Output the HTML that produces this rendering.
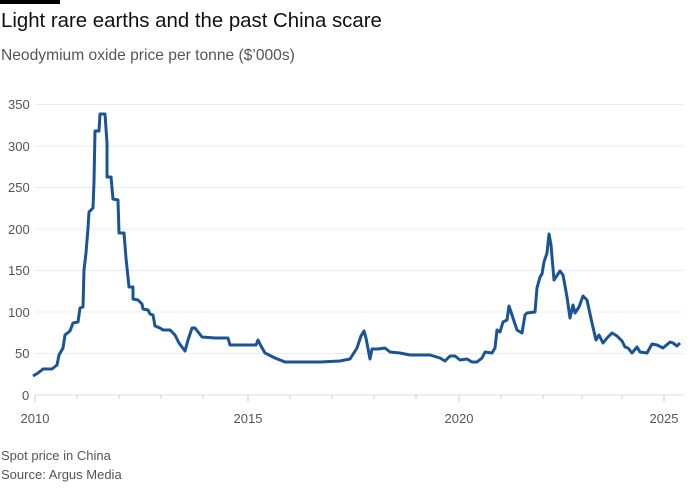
<!DOCTYPE html>
<html><head><meta charset="utf-8"><style>
body{margin:0;background:#fff;font-family:"Liberation Sans",sans-serif;}
.w{position:relative;width:700px;height:500px;overflow:hidden;}
</style></head><body><div class="w">
<div style="position:absolute;left:0;top:0;width:60px;height:4px;background:#000"></div>
<div style="position:absolute;left:1px;top:10px;font-size:20.4px;color:#111">Light rare earths and the past China scare</div>
<div style="position:absolute;left:1px;top:47px;font-size:15.6px;color:#555">Neodymium oxide price per tonne ($’000s)</div>
<svg width="700" height="500" style="position:absolute;left:0;top:0" font-family="Liberation Sans, sans-serif">
<g stroke="#ececec" stroke-width="1">
<line x1="35" x2="684" y1="104.5" y2="104.5"/><line x1="35" x2="684" y1="146" y2="146"/><line x1="35" x2="684" y1="187.5" y2="187.5"/><line x1="35" x2="684" y1="229" y2="229"/><line x1="35" x2="684" y1="270.5" y2="270.5"/><line x1="35" x2="684" y1="312" y2="312"/><line x1="35" x2="684" y1="353.5" y2="353.5"/>
</g>
<line x1="35" x2="684" y1="395" y2="395" stroke="#ddd"/>
<g stroke="#ccc">
<line x1="35" x2="35" y1="395" y2="402"/><line x1="77" x2="77" y1="395" y2="399"/><line x1="119" x2="119" y1="395" y2="399"/><line x1="161" x2="161" y1="395" y2="399"/><line x1="203" x2="203" y1="395" y2="399"/><line x1="248" x2="248" y1="395" y2="402"/><line x1="290" x2="290" y1="395" y2="399"/><line x1="332" x2="332" y1="395" y2="399"/><line x1="374" x2="374" y1="395" y2="399"/><line x1="416" x2="416" y1="395" y2="399"/><line x1="459" x2="459" y1="395" y2="402"/><line x1="501" x2="501" y1="395" y2="399"/><line x1="543" x2="543" y1="395" y2="399"/><line x1="582" x2="582" y1="395" y2="399"/><line x1="622" x2="622" y1="395" y2="399"/><line x1="664" x2="664" y1="395" y2="402"/>
</g>
<g font-size="13" fill="#555">
<text x="8" y="109">350</text><text x="8" y="151">300</text><text x="8" y="192">250</text><text x="8" y="234">200</text><text x="8" y="275">150</text><text x="8" y="317">100</text><text x="15" y="358">50</text><text x="22" y="400">0</text>
<text x="35" y="423" text-anchor="middle">2010</text><text x="248" y="423" text-anchor="middle">2015</text><text x="459" y="423" text-anchor="middle">2020</text><text x="664" y="423" text-anchor="middle">2025</text>
</g>
<polyline fill="none" stroke="#1a5496" stroke-width="3" stroke-linejoin="round" points="33,376 38,373 43,369 52,369 57,365 59,355 63,348 65,335 70,331 73,323 78,322 80,308 83,307 84,270 86,253 88,228 89,212 93,208 94,182 95,131 99,131 100,114 105,114 107,143 107,177 111,177 113,199 118,200 119,233 124,233 126,258 129,287 133,287 133,299 138,300 142,304 143,309 148,310 150,314 153,315 155,326 160,328 163,330 170,330 175,335 179,343 185,351 188,340 192,328 195,328 202,337 215,338 228,338 230,345 256,345 258,340 261,346 265,353 275,358 285,362 300,362 320,362 340,361 350,359 357,348 361,336 364,331 366,338 370,359 372,349 378,349 385,348 390,352 400,353 410,355 430,355 440,358 445,361 450,356 455,356 460,360 467,359 472,362 477,362 482,358 485,352 492,353 495,348 497,330 500,332 503,322 507,320 509,306 512,315 517,330 522,333 525,315 527,313 535,312 537,288 540,277 542,274 544,262 547,253 549,234 551,245 554,280 560,271 563,275 567,297 570,318 573,305 575,313 579,307 583,296 587,300 592,323 596,340 599,335 603,343 607,338 612,333 617,336 622,341 625,347 628,348 632,353 637,347 640,352 647,353 652,344 657,345 663,348 670,342 673,343 677,346 680,343"/>
<text x="1" y="460" font-size="13" fill="#555">Spot price in China</text>
<text x="1" y="479" font-size="13" fill="#555">Source: Argus Media</text>
</svg>
</div></body></html>
